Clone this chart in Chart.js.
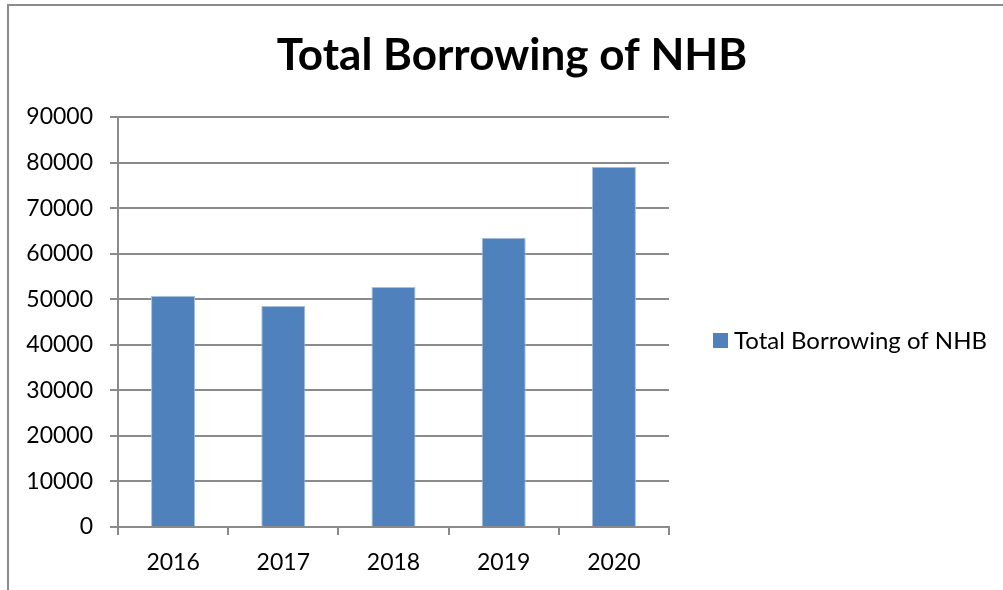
<!DOCTYPE html>
<html>
<head>
<meta charset="utf-8">
<script src="https://cdn.jsdelivr.net/npm/chart.js@4"></script>
<style>
    html, body { margin: 0; padding: 0; background: #ffffff; }
    #wrap { width: 1003px; height: 590px; position: relative; }
</style>
</head>
<body>
<div id="wrap"><canvas id="myChart" width="1003" height="590"></canvas></div>
<script>
const years = ['2016', '2017', '2018', '2019', '2020'];
const borrowing = [50700, 48500, 52700, 63500, 79100];
const yTicks = [0, 10000, 20000, 30000, 40000, 50000, 60000, 70000, 80000, 90000];
const chartTitle = 'Total Borrowing of NHB';
const seriesName = 'Total Borrowing of NHB';

const fontFamily = 'Lato, "Open Sans", sans-serif';
const gridColor = '#8a8a8a';

// frame, title and legend drawn on the canvas
const decorPlugin = {
    id: 'decor',
    beforeDraw(chart) {
        const ctx = chart.ctx;
        ctx.save();
        ctx.fillStyle = '#ffffff';
        ctx.fillRect(0, 0, chart.width, chart.height);
        ctx.strokeStyle = '#8c8c8c';
        ctx.lineWidth = 2;
        ctx.beginPath();
        ctx.moveTo(8, chart.height);
        ctx.lineTo(8, 5);
        ctx.lineTo(chart.width, 5);
        ctx.stroke();
        ctx.restore();
    },
    afterDraw(chart) {
        const ctx = chart.ctx;
        ctx.save();
        ctx.fillStyle = '#000000';
        ctx.font = 'bold 44px ' + fontFamily;
        ctx.textAlign = 'center';
        ctx.textBaseline = 'alphabetic';
        ctx.fillText(chartTitle, 512, 70);

        ctx.fillStyle = '#4f81bd';
        ctx.fillRect(713, 333, 15, 15);
        ctx.fillStyle = '#000000';
        ctx.font = '24px ' + fontFamily;
        ctx.textAlign = 'left';
        ctx.fillText(seriesName, 734, 349);
        ctx.restore();
    }
};

const ctx = document.getElementById('myChart');

new Chart(ctx, {
    type: 'bar',
    data: {
        labels: years,
        datasets: [{
            label: seriesName,
            data: borrowing,
            backgroundColor: '#4f81bd',
            borderColor: '#a7c0de',
            borderWidth: { top: 1, left: 1, right: 1, bottom: 0 },
            barPercentage: 0.4,
            categoryPercentage: 1.0
        }]
    },
    options: {
        responsive: false,
        animation: false,
        layout: {
            padding: { left: 0, top: 117, right: 334, bottom: 0 }
        },
        plugins: {
            legend: { display: false },
            title: { display: false },
            tooltip: { enabled: false }
        },
        scales: {
            x: {
                afterFit(scale) { scale.height = 63; },
                grid: {
                    display: true,
                    drawOnChartArea: false,
                    drawTicks: true,
                    tickLength: 8,
                    color: gridColor,
                    lineWidth: 2,
                    offset: true
                },
                border: { display: true, color: gridColor, width: 2 },
                ticks: {
                    color: '#000000',
                    font: { family: fontFamily, size: 23 },
                    padding: 14
                }
            },
            y: {
                min: 0,
                max: 90000,
                afterFit(scale) { scale.width = 118; },
                afterBuildTicks(scale) {
                    scale.ticks = yTicks.map(v => ({ value: v }));
                },
                grid: {
                    color: gridColor,
                    lineWidth: 2,
                    drawTicks: true,
                    tickLength: 8
                },
                border: { display: true, color: gridColor, width: 2 },
                ticks: {
                    color: '#000000',
                    font: { family: fontFamily, size: 23 },
                    padding: 17,
                    callback: v => String(v)
                }
            }
        }
    },
    plugins: [decorPlugin]
});
</script>
</body>
</html>
